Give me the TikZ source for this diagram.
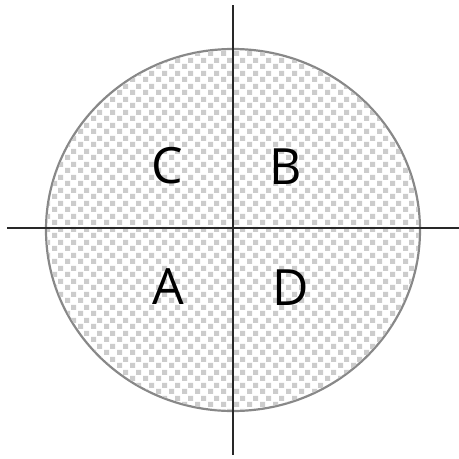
\documentclass[tikz,border=0pt]{standalone}
\usepackage{fontspec}
\setsansfont{Open Sans}
\usepackage{tikz}
\usetikzlibrary{patterns}
\definecolor{checkgray}{RGB}{204,204,204}
\definecolor{rimgray}{RGB}{136,136,136}
\definecolor{axisgray}{RGB}{40,40,40}

% light checker fill of the disc
\pgfdeclarepatternformonly{checks}{\pgfqpoint{0pt}{0pt}}{\pgfqpoint{13pt}{13pt}}{\pgfqpoint{13pt}{13pt}}{%
  \pgfpathrectangle{\pgfqpoint{0pt}{0pt}}{\pgfqpoint{5.5pt}{5.5pt}}%
  \pgfpathrectangle{\pgfqpoint{6.5pt}{6.5pt}}{\pgfqpoint{5.5pt}{5.5pt}}%
  \pgfusepath{fill}}

\begin{document}
\begin{tikzpicture}[
    x=1pt, y=-1pt,
    disc/.style={draw=rimgray, line width=2.2pt, fill=white},
    axis/.style={draw=axisgray, line width=2.6pt},
    part/.style={font=\sffamily\fontsize{50}{60}\selectfont, inner sep=0pt}
]
\useasboundingbox (0,0) rectangle (459,459);

% --- disc ---
\coordinate (o) at (233,230);
\path[disc] (o) ellipse [x radius=187, y radius=181];
\path[pattern=checks, pattern color=checkgray] (o) ellipse [x radius=186, y radius=180];

% --- axes ---
\coordinate (top) at (233,5);
\coordinate (bottom) at (233,455);
\coordinate (left) at (7,228);
\coordinate (right) at (459,228);
\draw[axis] (top) -- (bottom);
\draw[axis] (left) -- (right);

% --- labels ---
\node[part] (c) at (167,166) {C};
\node[part] (b) at (286,167) {B};
\node[part] (a) at (168,287) {A};
\node[part] (d) at (291,288) {D};

\end{tikzpicture}
\end{document}
